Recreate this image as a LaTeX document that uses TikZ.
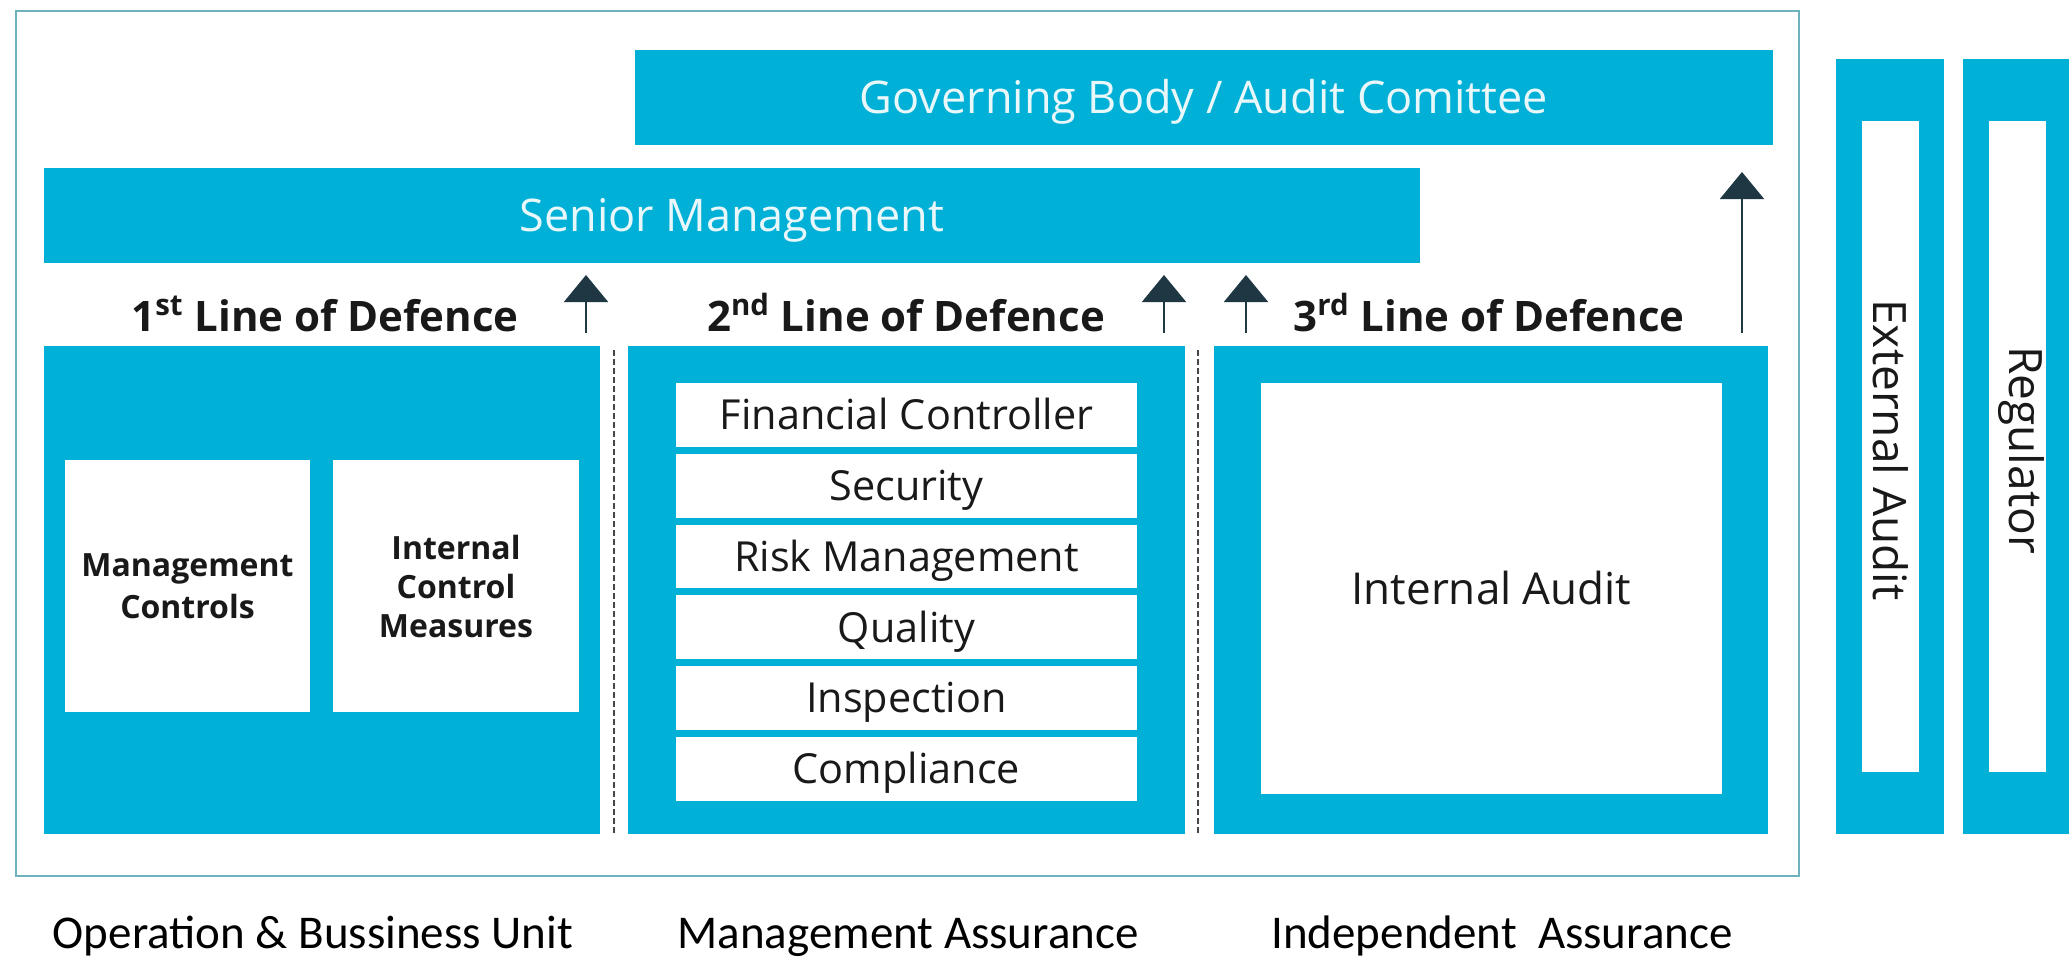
\documentclass[tikz,border=0pt]{standalone}
\usepackage{fontspec}
\setmainfont{Open Sans}
\newfontfamily\calib{Carlito}
\usetikzlibrary{arrows.meta}
\definecolor{cy}{RGB}{0,176,214}
\definecolor{frm}{RGB}{110,178,190}
\definecolor{arr}{RGB}{30,55,66}
\definecolor{txt}{RGB}{25,25,25}
\definecolor{wtx}{RGB}{232,247,250}
\definecolor{dsh}{RGB}{70,70,70}
\begin{document}
\begin{tikzpicture}[x=0.5pt,y=-0.5pt,
  cybox/.style={fill=cy, draw=none, inner sep=0pt, outer sep=0pt},
  whbox/.style={fill=white, draw=none, inner sep=0pt, outer sep=0pt, align=center, text=txt},
  bartext/.style={text=wtx, font=\fontsize{22.5}{27}\selectfont, text height=16pt, text depth=0pt},
  lodtext/.style={text=txt, font=\bfseries\fontsize{21}{25}\selectfont, anchor=base, inner sep=0pt},
  itemtext/.style={font=\fontsize{20.7}{24}\selectfont, text height=14.7pt, text depth=0pt},
  smalltext/.style={font=\bfseries\fontsize{16}{21}\selectfont},
  sidetext/.style={text=txt, font=\fontsize{23}{27}\selectfont, rotate=-90, inner sep=0pt},
  foot/.style={text=black, font=\calib\fontsize{23.5}{28}\selectfont, anchor=base, inner sep=0pt},
  uparr/.style={draw=arr, line width=0.9pt, -{Triangle[width=22pt,length=13.5pt]}},
  dashline/.style={draw=dsh, line width=1pt, dash pattern=on 3pt off 1.5pt},
  ]
\useasboundingbox (0,0) rectangle (2069,969);
\fill[white] (0,0) rectangle (2069,969);
% outer frame
\draw[frm, line width=1.2pt] (16,11) rectangle (1799,876);

% top bars
\node[cybox, bartext, minimum width=569pt, minimum height=47.5pt] (gb) at (1204,97.5) {Governing Body / Audit Comittee};
\node[cybox, bartext, minimum width=688pt, minimum height=47.5pt] (sm) at (732,215.5) {Senior Management};

% line of defence labels
\node[lodtext] (l1) at (325,331) {1\textsuperscript{st} Line of Defence};
\node[lodtext] (l2) at (906,331) {2\textsuperscript{nd} Line of Defence};
\node[lodtext] (l3) at (1489,331) {3\textsuperscript{rd} Line of Defence};

% three columns
\node[cybox, minimum width=278pt, minimum height=244pt] (b1) at (322,590) {};
\node[cybox, minimum width=278.5pt, minimum height=244pt] (b2) at (906.5,590) {};
\node[cybox, minimum width=277pt, minimum height=244pt] (b3) at (1491,590) {};

\draw[dashline] (614,350) -- (614,834);
\draw[dashline] (1198,350) -- (1198,834);

% first line content
\node[whbox, smalltext, minimum width=122.5pt, minimum height=126pt] (mc) at (187.5,586) {Management\\Controls};
\node[whbox, smalltext, font=\bfseries\fontsize{16}{19.5}\selectfont, minimum width=123pt, minimum height=126pt] (icm) at (456,586) {Internal\\Control\\Measures};

% second line content
\node[whbox, itemtext, minimum width=230.5pt, minimum height=31.9pt] (fc) at (906.5,414.9) {Financial Controller};
\node[whbox, itemtext, minimum width=230.5pt, minimum height=31.9pt] (se) at (906.5,485.7) {Security};
\node[whbox, itemtext, minimum width=230.5pt, minimum height=31.9pt] (rm) at (906.5,556.5) {Risk Management};
\node[whbox, itemtext, minimum width=230.5pt, minimum height=31.9pt] (qu) at (906.5,627.3) {Quality};
\node[whbox, itemtext, minimum width=230.5pt, minimum height=31.9pt] (in) at (906.5,698.1) {Inspection};
\node[whbox, itemtext, minimum width=230.5pt, minimum height=31.9pt] (co) at (906.5,768.9) {Compliance};

% third line content
\node[whbox, font=\fontsize{22}{26}\selectfont, text height=15.7pt, text depth=0pt, minimum width=230.5pt, minimum height=205.5pt] (ia) at (1491.5,588.5) {Internal Audit};

% external audit and regulator
\node[cybox, minimum width=54pt, minimum height=387.5pt] (ea) at (1890,446.5) {};
\node[whbox, minimum width=28.5pt, minimum height=325.5pt] (eaw) at (1890.5,446.5) {};
\node[sidetext] (eat) at (1891,450) {External Audit};
\node[cybox, minimum width=53pt, minimum height=387.5pt] (rg) at (2016,446.5) {};
\node[whbox, minimum width=28.5pt, minimum height=325.5pt] (rgw) at (2017.5,446.5) {};
\node[sidetext] (rgt) at (2021,450) {Regulator};

% arrows
\coordinate (a1) at (586,333);
\coordinate (a2) at (1164,333);
\coordinate (a3) at (1246,333);
\coordinate (a4) at (1742,333);
\draw[uparr, shorten >=6pt] (a1) -- (a1 |- sm.south);
\draw[uparr, shorten >=6pt] (a2) -- (a2 |- sm.south);
\draw[uparr, shorten >=6pt] (a3) -- (a3 |- sm.south);
\draw[uparr, shorten >=13.5pt] (a4) -- (a4 |- gb.south);

% footer labels
\node[foot] (f1) at (313,948) {Operation \& Bussiness Unit};
\node[foot] (f2) at (908,948) {Management Assurance};
\node[foot] (f3) at (1502,948) {Independent\ \ Assurance};
\end{tikzpicture}
\end{document}
